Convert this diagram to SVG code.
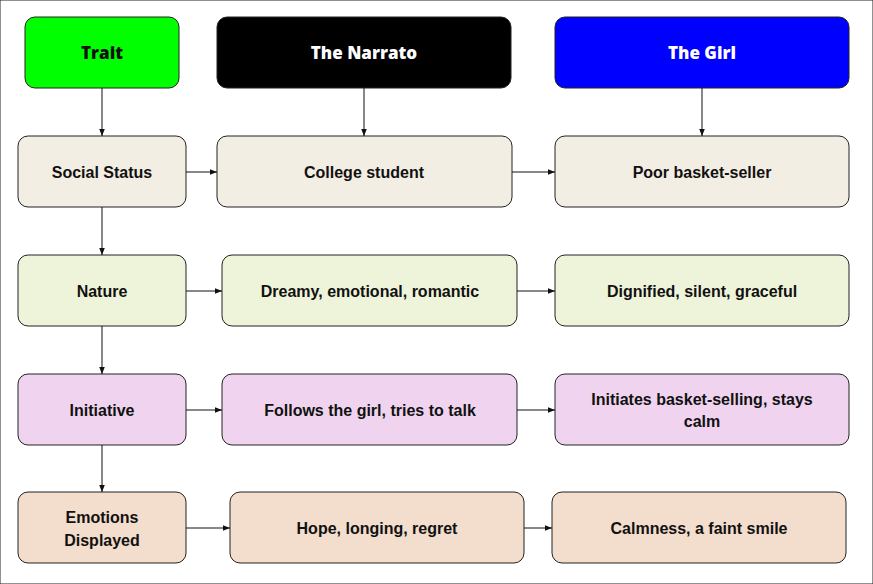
<svg xmlns="http://www.w3.org/2000/svg" width="873" height="584" viewBox="0 0 873 584">
<style>
rect{stroke:#222;stroke-width:1}
text{font-family:"Liberation Sans",Arial,sans-serif;font-weight:bold;font-size:16px;text-anchor:middle;dominant-baseline:central;fill:#111}
.h{font-family:"Open Sans","Liberation Sans",sans-serif;font-weight:800;font-size:17px}
.c line{stroke:#111;stroke-width:1;marker-end:url(#a)}
.r2{fill:#f3eee3}.r3{fill:#eef4da}.r4{fill:#f0d4ef}.r5{fill:#f3ddcc}
</style>
<defs><marker id="a" viewBox="0 0 10 10" refX="10" refY="5" markerWidth="7" markerHeight="7" orient="auto"><path d="M0,1 L10,5 L0,9 z" fill="#111"/></marker></defs>
<rect width="873" height="584" fill="#fff" stroke="none"/>
<g id="trait"><rect x="25" y="17" width="154" height="71" rx="10" fill="#00ff00"/><text class="h" x="102" y="52">Trait</text></g>
<g id="narrator"><rect x="217" y="17" width="294" height="71" rx="10" fill="#000"/><text class="h" x="364" y="52" fill="#fff" style="fill:#fff">The Narrato</text></g>
<g id="girl"><rect x="555" y="17" width="294" height="71" rx="10" fill="#0000ff"/><text class="h" x="702" y="52" style="fill:#fff">The Girl</text></g>
<g id="social"><rect class="r2" x="18" y="136" width="168" height="71" rx="10"/><text x="102" y="172">Social Status</text></g>
<g id="college"><rect class="r2" x="217" y="136" width="295" height="71" rx="10"/><text x="364" y="172">College student</text></g>
<g id="poor"><rect class="r2" x="555" y="136" width="294" height="71" rx="10"/><text x="702" y="172">Poor basket-seller</text></g>
<g id="nature"><rect class="r3" x="18" y="255" width="168" height="71" rx="10"/><text x="102" y="291">Nature</text></g>
<g id="dreamy"><rect class="r3" x="222" y="255" width="295" height="71" rx="10"/><text x="370" y="291">Dreamy, emotional, romantic</text></g>
<g id="dignified"><rect class="r3" x="555" y="255" width="294" height="71" rx="10"/><text x="702" y="291">Dignified, silent, graceful</text></g>
<g id="initiative"><rect class="r4" x="18" y="374" width="168" height="71" rx="10"/><text x="102" y="410">Initiative</text></g>
<g id="follows"><rect class="r4" x="222" y="374" width="295" height="71" rx="10"/><text x="370" y="410">Follows the girl, tries to talk</text></g>
<g id="initiates"><rect class="r4" x="555" y="374" width="294" height="71" rx="10"/><text x="702" y="399">Initiates basket-selling, stays</text><text x="702" y="421">calm</text></g>
<g id="emotions"><rect class="r5" x="18" y="492" width="168" height="71" rx="10"/><text x="102" y="517">Emotions</text><text x="102" y="540">Displayed</text></g>
<g id="hope"><rect class="r5" x="230" y="492" width="294" height="71" rx="10"/><text x="377" y="528">Hope, longing, regret</text></g>
<g id="calm"><rect class="r5" x="552" y="492" width="294" height="71" rx="10"/><text x="699" y="528">Calmness, a faint smile</text></g>
<g class="c" id="connectors">
<line x1="102" y1="88" x2="102" y2="136"/>
<line x1="364" y1="88" x2="364" y2="136"/>
<line x1="702" y1="88" x2="702" y2="136"/>
<line x1="102" y1="207" x2="102" y2="255"/>
<line x1="102" y1="326" x2="102" y2="374"/>
<line x1="102" y1="445" x2="102" y2="492"/>
<line x1="186" y1="172" x2="217" y2="172"/>
<line x1="512" y1="172" x2="555" y2="172"/>
<line x1="186" y1="291" x2="222" y2="291"/>
<line x1="517" y1="291" x2="555" y2="291"/>
<line x1="186" y1="410" x2="222" y2="410"/>
<line x1="517" y1="410" x2="555" y2="410"/>
<line x1="186" y1="528" x2="230" y2="528"/>
<line x1="524" y1="528" x2="552" y2="528"/>
</g>
</svg>
